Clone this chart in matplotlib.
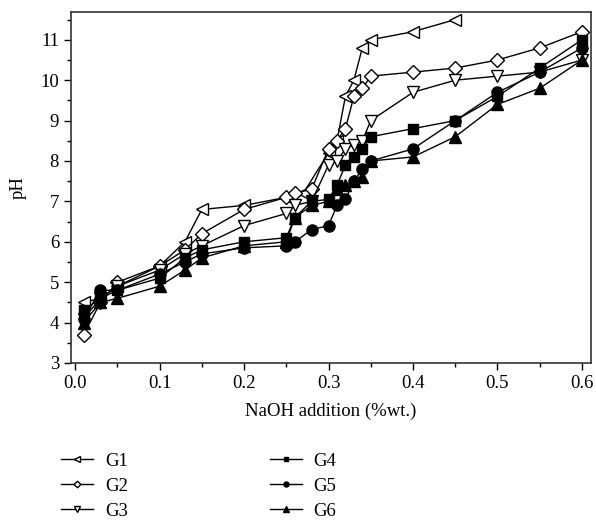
import matplotlib
matplotlib.use('Agg')
import matplotlib.pyplot as plt
from matplotlib.ticker import MultipleLocator

plt.rcParams['font.family'] = ['Liberation Serif', 'DejaVu Serif']

# NaOH addition (%wt.) and measured pH for each group
naoh = [0.01, 0.03, 0.05, 0.10, 0.13, 0.15, 0.20, 0.25, 0.26, 0.28,
        0.30, 0.31, 0.32, 0.33, 0.34, 0.35, 0.40, 0.45, 0.50, 0.55, 0.60]

g1_x = [0.01, 0.03, 0.05, 0.10, 0.13, 0.15, 0.20, 0.25, 0.27, 0.30,
        0.31, 0.32, 0.33, 0.34, 0.35, 0.40, 0.45]
g1 = [4.5, 4.6, 4.9, 5.4, 6.0, 6.8, 6.9, 7.1, 7.2, 8.2,
      8.5, 9.6, 10.0, 10.8, 11.0, 11.2, 11.5]
g2 = [3.7, 4.5, 5.0, 5.4, 5.8, 6.2, 6.8, 7.1, 7.2, 7.3,
      8.3, 8.5, 8.8, 9.6, 9.8, 10.1, 10.2, 10.3, 10.5, 10.8, 11.2]
g3 = [4.1, 4.6, 4.9, 5.3, 5.7, 5.9, 6.4, 6.7, 6.9, 7.0,
      7.9, 8.0, 8.3, 8.4, 8.5, 9.0, 9.7, 10.0, 10.1, 10.2, 10.5]
g4 = [4.3, 4.6, 4.8, 5.1, 5.6, 5.8, 6.0, 6.1, 6.6, 7.0,
      7.05, 7.4, 7.9, 8.1, 8.3, 8.6, 8.8, 9.0, 9.6, 10.3, 11.0]
g5 = [4.1, 4.8, 4.8, 5.2, 5.5, 5.7, 5.85, 5.9, 6.0, 6.3,
      6.4, 6.9, 7.05, 7.5, 7.8, 8.0, 8.3, 9.0, 9.7, 10.2, 10.8]
g6 = [4.0, 4.5, 4.6, 4.9, 5.3, 5.6, 5.9, 6.0, 6.6, 6.9,
      7.0, 7.3, 7.4, 7.5, 7.6, 8.0, 8.1, 8.6, 9.4, 9.8, 10.5]

series = [
    ('G1', g1_x, g1, '<', 'white'),
    ('G2', naoh, g2, 'D', 'white'),
    ('G3', naoh, g3, 'v', 'white'),
    ('G4', naoh, g4, 's', 'black'),
    ('G5', naoh, g5, 'o', 'black'),
    ('G6', naoh, g6, '^', 'black'),
]
sizes = {'<': 8.5, 'D': 7.5, 'v': 8.5, 's': 7, 'o': 8, '^': 8.5}

fig = plt.figure(figsize=(5.96, 5.23), dpi=100)
ax = fig.add_axes([0.119, 0.306, 0.873, 0.672])

for name, xs, ys, mk, fc in series:
    ax.plot(xs, ys, color='black', lw=1.0, marker=mk, ms=sizes[mk],
            mfc=fc, mec='black', mew=1.0, label=name)

ax.set_xlim(-0.005, 0.611)
ax.set_ylim(3, 11.7)
ax.xaxis.set_major_locator(MultipleLocator(0.1))
ax.xaxis.set_minor_locator(MultipleLocator(0.05))
ax.yaxis.set_major_locator(MultipleLocator(1))
ax.yaxis.set_minor_locator(MultipleLocator(0.5))
ax.tick_params(which='major', direction='out', length=5, width=1.0,
               labelsize=13.5, colors='black')
ax.tick_params(which='minor', direction='out', length=3, width=1.0)
ax.xaxis.set_major_formatter(plt.FuncFormatter(lambda v, p: f'{v:.1f}'))
for s in ax.spines.values():
    s.set_linewidth(1.2)
    s.set_color('#333333')

ax.set_xlabel('NaOH addition (%wt.)', fontsize=13.5, labelpad=8)
ax.set_ylabel('pH', fontsize=13.5, labelpad=10)

fig.legend(loc='upper left', bbox_to_anchor=(0.103, 0.134), ncol=2,
           frameon=False, fontsize=13.5, markerscale=0.45, handlelength=1.7,
           columnspacing=7.55, labelspacing=0.42, handletextpad=0.64,
           borderpad=0, borderaxespad=0)

fig.savefig('out.png', dpi=100)
